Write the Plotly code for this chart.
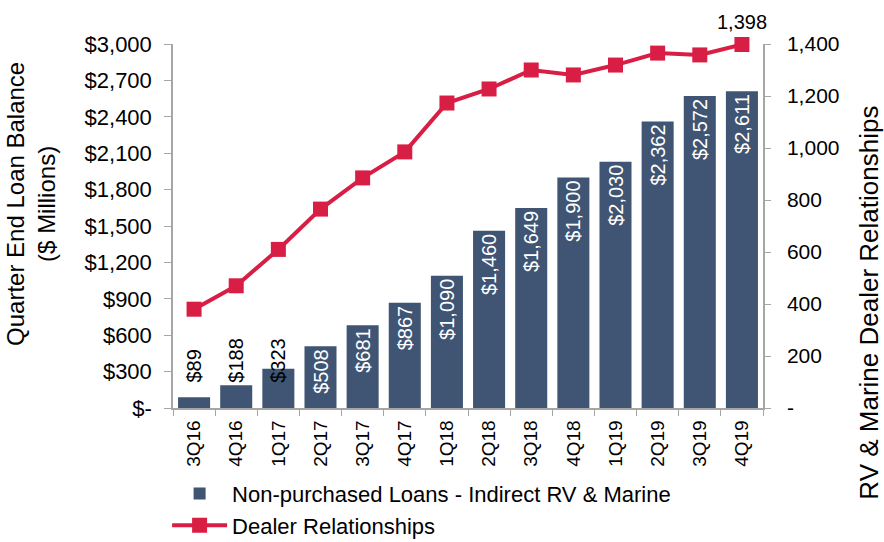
import plotly.graph_objects as go

quarters = ["3Q16", "4Q16", "1Q17", "2Q17", "3Q17", "4Q17", "1Q18", "2Q18",
            "3Q18", "4Q18", "1Q19", "2Q19", "3Q19", "4Q19"]
loan_balance = [89, 188, 323, 508, 681, 867, 1090, 1460, 1649, 1900, 2030, 2362, 2572, 2611]
dealers = [380, 470, 610, 765, 885, 985, 1173, 1227, 1300, 1281, 1319, 1365, 1358, 1398]

left_ticks = [0, 300, 600, 900, 1200, 1500, 1800, 2100, 2400, 2700, 3000]
left_labels = ["$-"] + [f"${v:,}" for v in left_ticks[1:]]
right_ticks = [0, 200, 400, 600, 800, 1000, 1200, 1400]
right_labels = ["-"] + [f"{v:,}" for v in right_ticks[1:]]

FONT = "Liberation Sans, Arial, sans-serif"
BAR_COLOR = "#3F5573"
LINE_COLOR = "#D81E45"
AXIS_COLOR = "#A6A6A6"

# small balances get their label above the bar in dark text
inside_min = 400
bar_text = [f"${v:,}" if v >= inside_min else "" for v in loan_balance]

fig = go.Figure()
fig.add_trace(go.Bar(
    x=quarters, y=loan_balance, name="Non-purchased Loans - Indirect RV & Marine",
    marker=dict(color=BAR_COLOR, line=dict(width=0)),
    text=bar_text, textposition="inside", insidetextanchor="end", textangle=-90,
    textfont=dict(color="white", size=20, family=FONT),
    cliponaxis=False, yaxis="y",
))
fig.add_trace(go.Scatter(
    x=quarters, y=dealers, name="Dealer Relationships", mode="lines+markers",
    line=dict(color=LINE_COLOR, width=4),
    marker=dict(symbol="square", size=15, color=LINE_COLOR),
    yaxis="y2", cliponaxis=False,
))

for q, v in zip(quarters, loan_balance):
    if v < inside_min:
        fig.add_annotation(x=q, y=190, yref="y", text=f"${v:,}", textangle=-90,
                           showarrow=False, yanchor="bottom",
                           font=dict(size=20, color="black", family=FONT))

fig.add_annotation(x=quarters[-1], y=dealers[-1], yref="y2", text=f"{dealers[-1]:,}",
                   showarrow=False, yanchor="bottom", yshift=10,
                   font=dict(size=20, color="black", family=FONT))

# axis titles
fig.add_annotation(xref="paper", yref="paper", x=-0.241, y=0.56,
                   text="Quarter End Loan Balance<br>($ Millions)", textangle=-90,
                   showarrow=False, xanchor="center", yanchor="middle",
                   font=dict(size=24, color="black", family=FONT))
fig.add_annotation(xref="paper", yref="paper", x=1.18, y=0.29,
                   text="RV & Marine Dealer Relationships", textangle=-90,
                   showarrow=False, xanchor="center", yanchor="middle",
                   font=dict(size=26, color="black", family=FONT))

fig.update_layout(
    width=884, height=542,
    margin=dict(l=173, r=121, t=44, b=134, autoexpand=False),
    paper_bgcolor="white", plot_bgcolor="white",
    font=dict(family=FONT, size=20, color="black"),
    bargap=0.24,
    showlegend=True,
    legend=dict(x=-0.01, y=-0.178, xanchor="left", yanchor="top",
                font=dict(size=22, family=FONT), tracegroupgap=0,
                itemwidth=55, bgcolor="rgba(0,0,0,0)"),
    xaxis=dict(type="category", range=[-0.5, len(quarters) - 0.5],
               tickangle=-90, tickson="boundaries",
               ticks="outside", ticklen=6, tickcolor=AXIS_COLOR,
               ticklabelstandoff=3,
               showline=True, linecolor=AXIS_COLOR, linewidth=1.5,
               tickfont=dict(size=19, family=FONT), showgrid=False,
               automargin=False),
    yaxis=dict(range=[0, 3000], tickvals=left_ticks, ticktext=left_labels,
               ticks="outside", ticklen=7, tickcolor=AXIS_COLOR,
               ticklabelstandoff=8,
               showline=True, linecolor=AXIS_COLOR, linewidth=1.5,
               showgrid=False, zeroline=False, automargin=False,
               tickfont=dict(size=22, family=FONT)),
    yaxis2=dict(range=[0, 1400], overlaying="y", side="right",
                tickvals=right_ticks, ticktext=right_labels,
                ticks="outside", ticklen=6, tickcolor=AXIS_COLOR,
                ticklabelstandoff=12,
                showline=True, linecolor=AXIS_COLOR, linewidth=1.5,
                showgrid=False, zeroline=False, automargin=False,
                tickfont=dict(size=21, family=FONT)),
)

fig.write_html("out.html")
